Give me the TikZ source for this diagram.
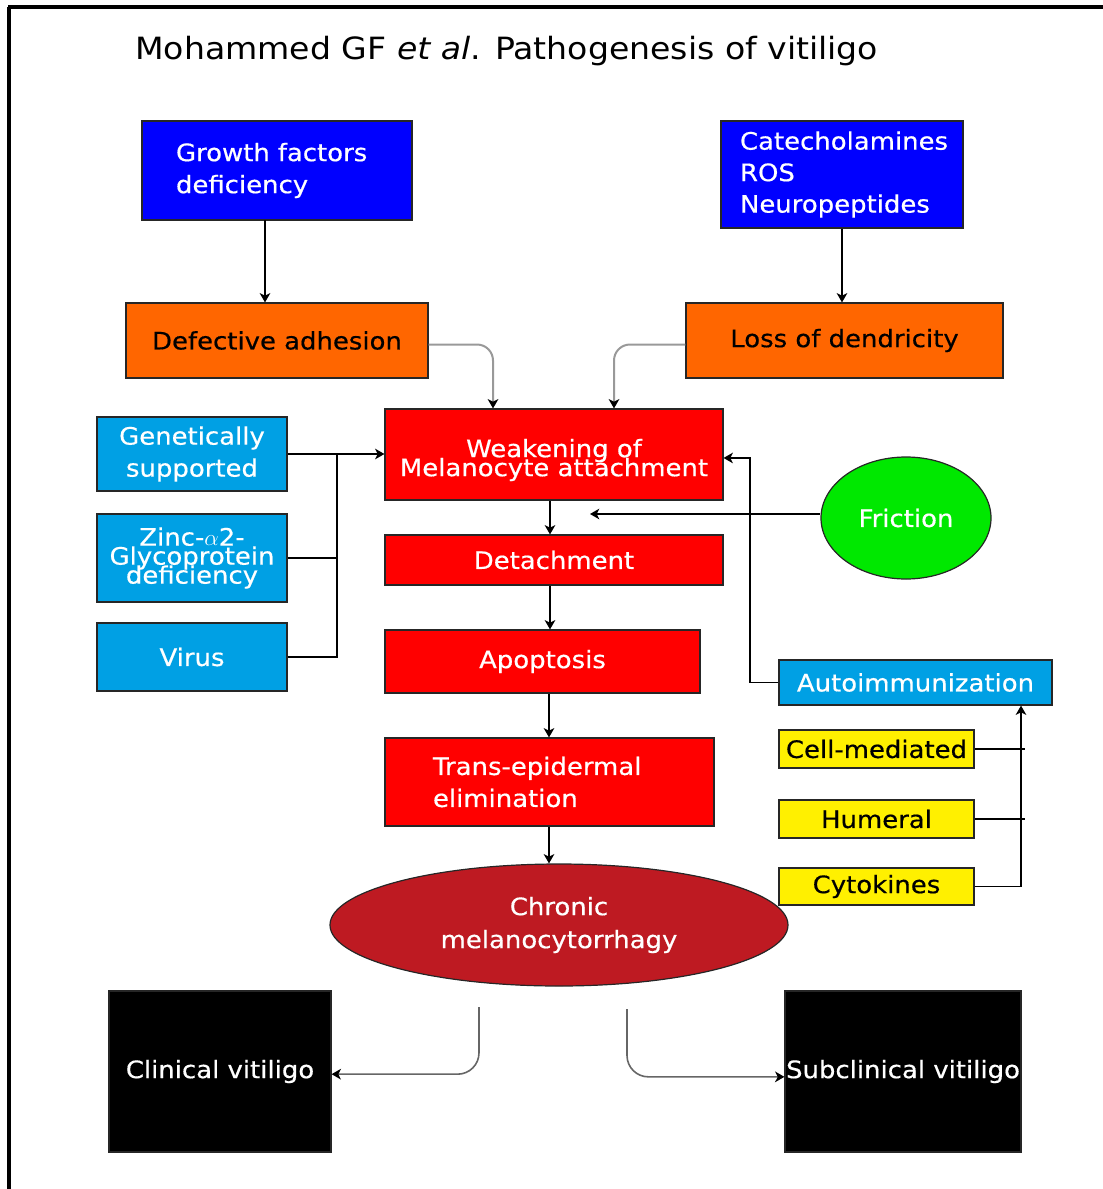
\documentclass[tikz,border=0pt]{standalone}
\usepackage{fontspec}
\setmainfont{DejaVu Sans}[FakeStretch=1.08]
\newfontfamily\boxfont{DejaVu Sans}[FakeStretch=1.08,FakeBold=0.5]
\usetikzlibrary{shapes.geometric,arrows.meta,calc}
\definecolor{cblue}{RGB}{0,0,255}
\definecolor{corange}{RGB}{255,102,0}
\definecolor{cred}{RGB}{255,0,0}
\definecolor{clight}{RGB}{0,160,228}
\definecolor{cyellow}{RGB}{255,240,0}
\definecolor{cgreen}{RGB}{0,232,0}
\definecolor{cdark}{RGB}{190,26,34}
\tikzset{
  box/.style={draw=black!85, line width=0.9pt, inner sep=0pt, text=white, align=center,
              font=\boxfont\fontsize{18}{24}\selectfont},
  sz/.style 2 args={minimum width=#1*0.75pt, minimum height=#2*0.75pt},
  tight/.style={font={\boxfont\fontsize{18}{14.25}\selectfont\lineskiplimit=-100pt}},
  arr/.style={-{Stealth[length=7pt,width=8pt,inset=2pt,color=black]}, line width=1pt},
  ln/.style={line width=1pt},
  garr/.style={arr, draw=black!40, line width=1.5pt, rounded corners=12pt},
  barr/.style={arr, draw=black!60, line width=1.2pt, rounded corners=16pt},
}
\begin{document}
\begin{tikzpicture}[x=0.75pt,y=-0.75pt]
\useasboundingbox (0,0) rectangle (1103,1189);
% frame
\draw[line width=2.3pt] (8,7) -- (1103,7);
\draw[line width=2.3pt] (9,7) -- (9,1189);
% title
\node[anchor=base west, inner sep=0pt, font=\fontsize{23}{27}\selectfont] (title) at (135,59)
  {Mohammed GF \textit{et al}. Pathogenesis of vitiligo};

% top boxes
\node[box, fill=cblue, sz={270}{99}, text width=151.5pt, align=left] (growth) at (277,170.5)
  {Growth factors\\deficiency};
\node[box, fill=cblue, sz={242}{107}, text width=153pt, align=left, font=\boxfont\fontsize{18}{23.6}\selectfont] (cat) at (842,174.5)
  {Catecholamines\\ROS\\Neuropeptides};
\node[box, fill=corange, sz={302}{75}, text=black] (defect) at (277,340.5) {Defective adhesion};
\node[box, fill=corange, sz={317}{75}, text=black] (loss) at (844.5,340.5) {Loss of dendricity};

% central chain
\node[box, fill=cred, sz={338}{91}, tight] (weak) at (554,454.5) {\rule{0pt}{22pt}Weakening of\\Melanocyte attachment};
\node[box, fill=cred, sz={338}{50}] (det) at (554,560) {Detachment};
\node[box, fill=cred, sz={315}{63}] (apo) at (542.5,661.5) {Apoptosis};
\node[box, fill=cred, sz={329}{88}, text width=174.75pt, align=left] (trans) at (549.5,782)
  {Trans-epidermal\\elimination};
\node[box, ellipse, fill=cdark, sz={458}{122}, font=\boxfont\fontsize{18}{24.75}\selectfont] (chronic) at (559,925)
  {Chronic\\melanocytorrhagy};

% left boxes
\node[box, fill=clight, sz={190}{74}] (gen) at (192,454) {Genetically\\supported};
\node[box, fill=clight, sz={190}{88}, tight] (zinc) at (192,558) {Zinc-$\alpha$2-\\Glycoprotein\\deficiency};
\node[box, fill=clight, sz={190}{68}] (virus) at (192,657) {Virus};

% right side
\node[box, ellipse, fill=cgreen, sz={170}{122}] (fric) at (906,518) {Friction};
\node[box, fill=clight, sz={273}{45}] (auto) at (915.5,682.5) {Autoimmunization};
\node[box, fill=cyellow, sz={195}{38}, text=black] (cell) at (876.5,749) {Cell-mediated};
\node[box, fill=cyellow, sz={195}{38}, text=black] (hum) at (876.5,819) {Humeral};
\node[box, fill=cyellow, sz={195}{37}, text=black] (cyto) at (876.5,886.5) {Cytokines};

% bottom boxes
\node[box, fill=black, sz={222}{161}] (clin) at (220,1071.5) {Clinical vitiligo};
\node[box, fill=black, sz={236}{161}] (sub) at (903,1071.5) {Subclinical vitiligo};

% helper coordinates
\coordinate (g1) at (265,220);
\coordinate (sp) at (550,0);
\coordinate (sp2) at (549,0);
\coordinate (bus) at (337,454);
\coordinate (fr) at (590,0);
\coordinate (ax) at (750,0);
\coordinate (yb) at (1021,0);
\coordinate (c1) at (479,1007);
\coordinate (c2) at (627,1009);

% connectors
\draw[arr] (g1) -- (g1 |- defect.north);
\draw[arr] (cat.south) -- (cat.south |- loss.north);
\draw[garr] ([yshift=-3pt]defect.east) -| ($(weak.north)+(-61,0)$);
\draw[garr] ([yshift=-3pt]loss.west) -| ($(weak.north)+(60,0)$);

\draw[arr] (gen.east) -- (gen.east -| weak.west);
\draw[ln] (zinc.east) -| (bus);
\draw[ln] (virus.east) -| (bus);

\draw[arr] (sp |- weak.south) -- (sp |- det.north);
\draw[arr] (sp |- det.south) -- (sp |- apo.north);
\draw[arr] (sp2 |- apo.south) -- (sp2 |- trans.north);
\draw[arr] (sp2 |- trans.south) -- (sp2 |- chronic.north);

\draw[arr] ([yshift=3pt]fric.west) -- ([yshift=3pt]fric.west -| fr);
\draw[arr] (auto.west) -- (auto.west -| ax) |- ([yshift=-2.6pt]weak.east);

\draw[ln] (cell.east) -- ++(50,0);
\draw[ln] (hum.east) -- ++(50,0);
\draw[arr] (cyto.east) -| (yb |- auto.south);

\draw[barr] (c1) |- ([yshift=-2pt]clin.east);
\draw[barr] (c2) |- ([yshift=-4pt]sub.west);
\end{tikzpicture}
\end{document}
